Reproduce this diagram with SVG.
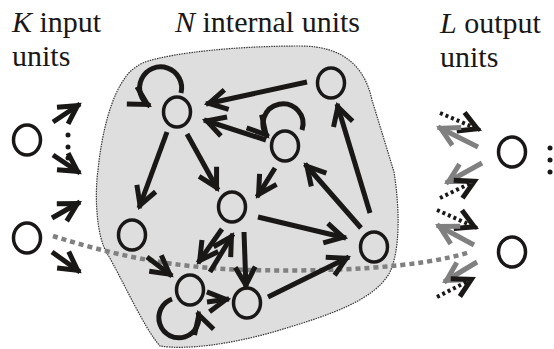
<svg xmlns="http://www.w3.org/2000/svg" width="554" height="349" viewBox="0 0 554 349">
<style>
.node{fill:none;stroke:#1a1717;stroke-width:3.5}
.e{fill:none;stroke:#1a1717;stroke-width:5;marker-end:url(#ah)}
.d{fill:none;stroke:#1a1717;stroke-width:4;stroke-dasharray:3 3;marker-end:url(#ah)}
.g{fill:none;stroke:#808080;stroke-width:5;marker-end:url(#ag)}
.dot{fill:#1a1717}
</style>
<defs>
<marker id="ah" markerUnits="userSpaceOnUse" markerWidth="40" markerHeight="40" viewBox="-25 -20 40 40" refX="3" refY="0" orient="auto">
<path d="M-18,-10 L0,0 L-18,10" fill="none" stroke="#1a1717" stroke-width="5"/>
</marker>
<marker id="ag" markerUnits="userSpaceOnUse" markerWidth="40" markerHeight="40" viewBox="-25 -20 40 40" refX="3" refY="0" orient="auto">
<path d="M-18,-10 L0,0 L-18,10" fill="none" stroke="#808080" stroke-width="5"/>
</marker>
</defs>
<g id="reservoir">
<path d="M145,62 C175,52 240,46 300,46 C345,46 365,68 372,100 L394,172 C400,210 400,250 390,272 C375,300 330,315 280,330 C230,345 185,350 160,346 C145,330 120,275 108,255 C95,235 95,190 98,170 C102,130 112,95 125,78 C130,70 138,65 145,62 Z" fill="#dedede" stroke="#333" stroke-width="1.2" stroke-dasharray="1.5 1"/>
</g>
<g id="labels" font-family="'Liberation Serif', Tinos, 'Times New Roman', 'DejaVu Serif', serif" font-size="30" fill="#1a1717">
<text x="12" y="32"><tspan font-style="italic">K</tspan> input</text>
<text x="12" y="66">units</text>
<text x="175" y="32"><tspan font-style="italic">N</tspan> internal units</text>
<text x="440" y="33"><tspan font-style="italic">L</tspan> output</text>
<text x="440" y="67">units</text>
</g>
<g id="connectors">
<path d="M53,236 C110,254 170,268 250,270 S420,268 470,252" fill="none" stroke="#808080" stroke-width="4.5" stroke-dasharray="5 4"/>
<path class="e" d="M53,122 L80,104"/>
<path class="e" d="M53,155 L80,173"/>
<path class="e" d="M52,218 L80,202"/>
<path class="e" d="M52,252 L80,272"/>
<path class="e" d="M307,82 L206,104"/>
<path class="e" d="M266,140 L204,120"/>
<path class="e" d="M167,132 L139,208"/>
<path class="e" d="M187,134 L218,190"/>
<path class="e" d="M275,168 L257,197"/>
<path class="e" d="M370,213 L337,104"/>
<path class="e" d="M361,228 L305,164"/>
<path class="e" d="M258,217 L346,238"/>
<path class="e" d="M268,297 L349,257"/>
<path class="e" d="M244,232 L246,288"/>
<path class="e" d="M222,229 L198,263"/>
<path class="e" d="M210,272 L233,234"/>
<path class="e" d="M147,257 L172,276"/>
<path class="e" d="M207,302 L229,299"/>
<path class="e" d="M181,93 A21,21 0 1 0 150,106"/>
<path class="e" d="M302,130 A20,20 0 1 0 268,137"/>
<path class="e" d="M172,299 A20,20 0 1 0 198,312"/>
<path class="d" d="M440,113 L480,130"/>
<path class="g" d="M478,147 L438,127"/>
<path class="g" d="M482,163 L446,183"/>
<path class="d" d="M440,198 L477,180"/>
<path class="d" d="M437,210 L477,228"/>
<path class="g" d="M474,245 L437,225"/>
<path class="g" d="M477,262 L444,282"/>
<path class="d" d="M437,297 L474,278"/>
</g>
<g id="in1"><ellipse class="node" cx="27" cy="140" rx="13.5" ry="15"/></g>
<g id="in2"><ellipse class="node" cx="27" cy="238" rx="13.5" ry="15"/></g>
<g id="in-dots"><circle class="dot" cx="68" cy="135" r="2.5"/><circle class="dot" cx="68" cy="147" r="2.5"/><circle class="dot" cx="68" cy="158" r="2.5"/></g>
<g id="nA"><ellipse class="node" cx="177" cy="112" rx="13.5" ry="15"/></g>
<g id="nB"><ellipse class="node" cx="331" cy="83" rx="13.5" ry="15"/></g>
<g id="nC"><ellipse class="node" cx="285" cy="146" rx="13.5" ry="15"/></g>
<g id="nD"><ellipse class="node" cx="232" cy="207" rx="13.5" ry="15"/></g>
<g id="nE"><ellipse class="node" cx="132" cy="235" rx="13.5" ry="15"/></g>
<g id="nF"><ellipse class="node" cx="190" cy="290" rx="13.5" ry="15"/></g>
<g id="nG"><ellipse class="node" cx="247" cy="303" rx="13.5" ry="15"/></g>
<g id="nH"><ellipse class="node" cx="374" cy="247" rx="13.5" ry="15"/></g>
<g id="out1"><ellipse class="node" cx="512" cy="152" rx="13.5" ry="15"/></g>
<g id="out2"><ellipse class="node" cx="512" cy="252" rx="13.5" ry="15"/></g>
<g id="out-dots"><circle class="dot" cx="550" cy="148" r="2.5"/><circle class="dot" cx="550" cy="160" r="2.5"/><circle class="dot" cx="550" cy="172" r="2.5"/></g>
</svg>
